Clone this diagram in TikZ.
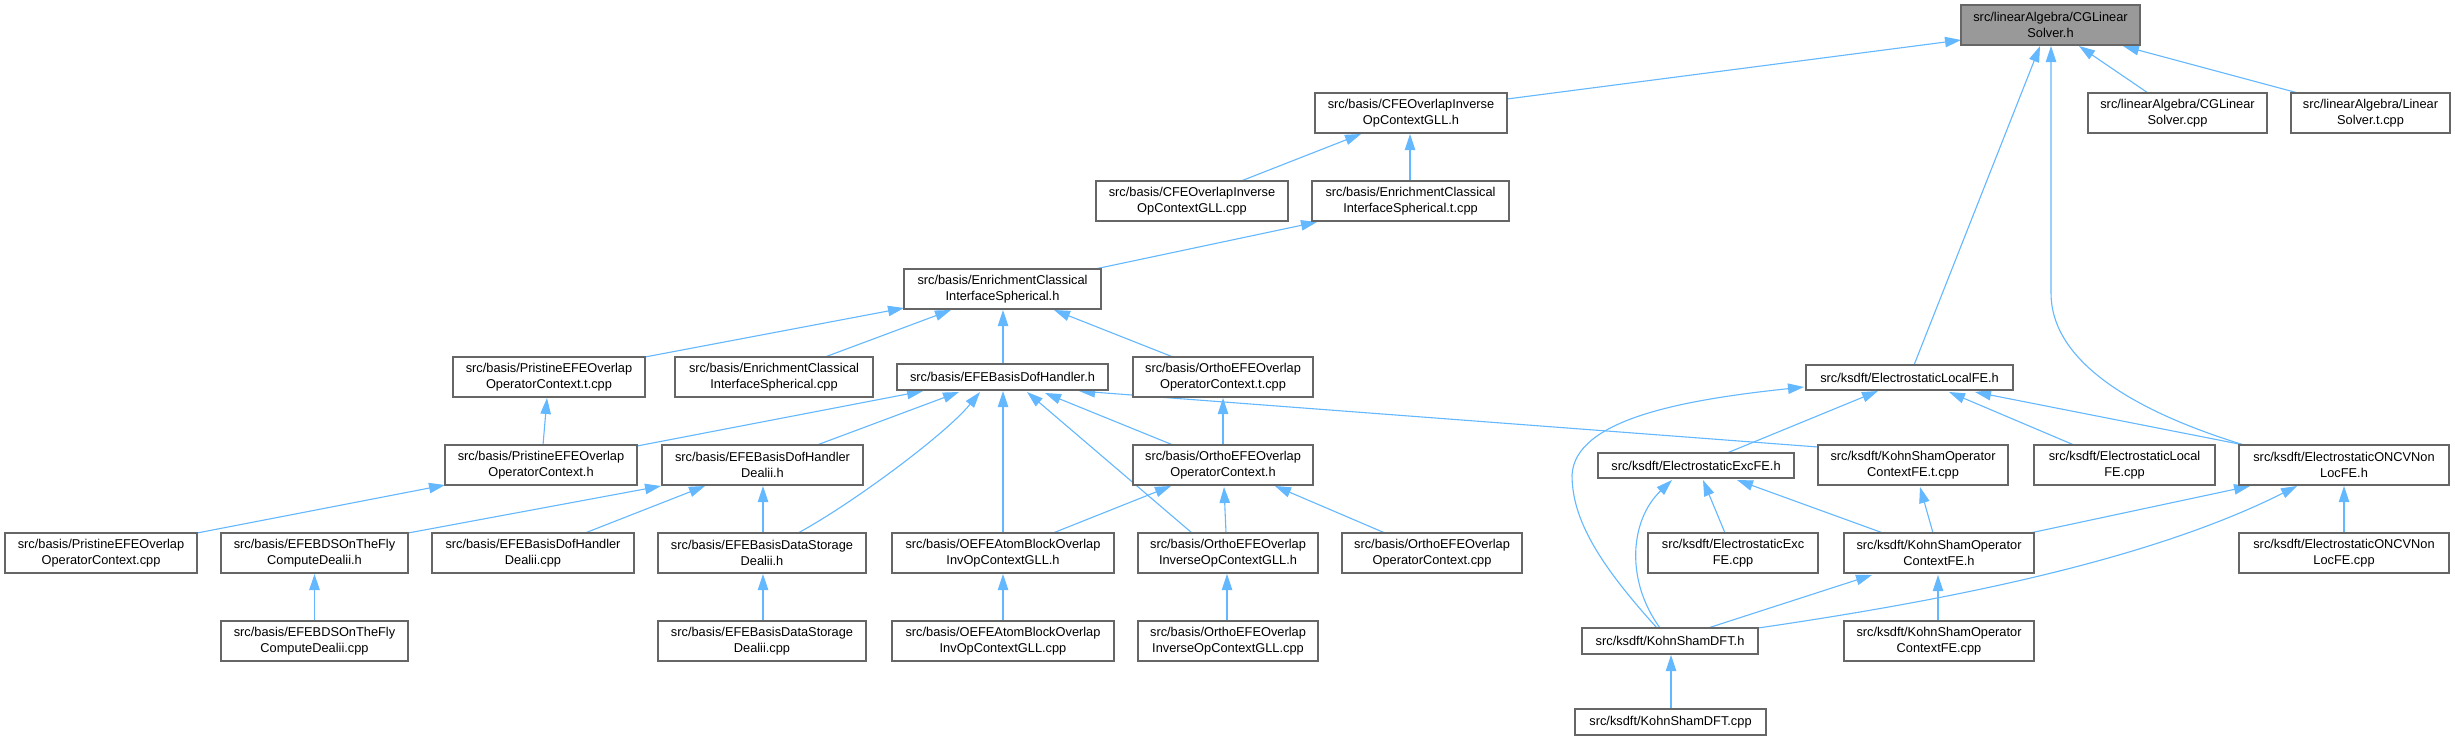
\documentclass[tikz,border=0pt]{standalone}
\usepackage{fontspec}
\setmainfont{Liberation Sans}
\usetikzlibrary{arrows.meta,backgrounds}
\definecolor{edgec}{HTML}{63B8FF}
\definecolor{bord}{HTML}{666666}
\definecolor{rootf}{HTML}{999999}
\tikzset{
  box/.style={draw=bord, fill=white, line width=0.55pt, inner sep=0pt, align=center,
    font=\fontsize{6.4}{8}\selectfont},
  rootbox/.style={box, fill=rootf},
  edge/.style={draw=edgec, line width=0.55pt, -{Triangle[length=8pt,width=5.2pt]}}
}
\newcommand\nd[7][box]{\node[#1, minimum width={(#4-#2)*0.5pt}, minimum height={(#5-#3)*0.5pt}] (#6) at ({(#2+#4)/2},{(#3+#5)/2}) {#7};}
\newcommand\ed[6]{\draw[edge] ([shift={(#2,#3)}]#1.center) -- ([shift={(#5,#6)}]#4.center);}
\begin{document}
\begin{tikzpicture}[x=0.5pt,y=-0.5pt]
\useasboundingbox (0,0) rectangle (2455,740);
% nodes
\nd[rootbox]{1961}{5}{2140}{45}{R}{src/linearAlgebra/CGLinear\\Solver.h}
\nd{1315}{93}{1507}{133}{CFEh}{src/basis/CFEOverlapInverse\\OpContextGLL.h}
\nd{2088}{93}{2267}{133}{CGcpp}{src/linearAlgebra/CGLinear\\Solver.cpp}
\nd{2291}{93}{2450}{133}{LStcpp}{src/linearAlgebra/Linear\\Solver.t.cpp}
\nd{1096}{181}{1288}{221}{CFEcpp}{src/basis/CFEOverlapInverse\\OpContextGLL.cpp}
\nd{1312}{181}{1509}{221}{ECtcpp}{src/basis/EnrichmentClassical\\InterfaceSpherical.t.cpp}
\nd{904}{269}{1101}{309}{ECh}{src/basis/EnrichmentClassical\\InterfaceSpherical.h}
\nd{453}{357}{645}{397}{PRtcpp}{src/basis/PristineEFEOverlap\\OperatorContext.t.cpp}
\nd{675}{357}{873}{397}{ECcpp}{src/basis/EnrichmentClassical\\InterfaceSpherical.cpp}
\nd{897}{364}{1108}{390}{DHh}{src/basis/EFEBasisDofHandler.h}
\nd{1133}{357}{1313}{397}{OOtcpp}{src/basis/OrthoEFEOverlap\\OperatorContext.t.cpp}
\nd{1806}{365}{2013}{390}{ELh}{src/ksdft/ElectrostaticLocalFE.h}
\nd{445}{445}{637}{485}{PRh}{src/basis/PristineEFEOverlap\\OperatorContext.h}
\nd{662}{445}{863}{485}{DHDh}{src/basis/EFEBasisDofHandler\\Dealii.h}
\nd{1133}{445}{1313}{485}{OOh}{src/basis/OrthoEFEOverlap\\OperatorContext.h}
\nd{1598}{453}{1794}{478}{EXh}{src/ksdft/ElectrostaticExcFE.h}
\nd{1818}{445}{2008}{485}{KStcpp}{src/ksdft/KohnShamOperator\\ContextFE.t.cpp}
\nd{2034}{445}{2215}{485}{ELcpp}{src/ksdft/ElectrostaticLocal\\FE.cpp}
\nd{2239}{445}{2449}{485}{ONh}{src/ksdft/ElectrostaticONCVNon\\LocFE.h}
\nd{5}{533}{197}{573}{PRcpp}{src/basis/PristineEFEOverlap\\OperatorContext.cpp}
\nd{221}{533}{408}{573}{BDh}{src/basis/EFEBDSOnTheFly\\ComputeDealii.h}
\nd{432}{533}{634}{573}{DHDcpp}{src/basis/EFEBasisDofHandler\\Dealii.cpp}
\nd{658}{533}{866}{573}{DSDh}{src/basis/EFEBasisDataStorage\\Dealii.h}
\nd{892}{533}{1114}{573}{OAh}{src/basis/OEFEAtomBlockOverlap\\InvOpContextGLL.h}
\nd{1138}{533}{1318}{573}{OIh}{src/basis/OrthoEFEOverlap\\InverseOpContextGLL.h}
\nd{1342}{533}{1522}{573}{OOcpp}{src/basis/OrthoEFEOverlap\\OperatorContext.cpp}
\nd{1648}{533}{1818}{573}{EXcpp}{src/ksdft/ElectrostaticExc\\FE.cpp}
\nd{1844}{533}{2034}{573}{KSh}{src/ksdft/KohnShamOperator\\ContextFE.h}
\nd{2239}{533}{2449}{573}{ONcpp}{src/ksdft/ElectrostaticONCVNon\\LocFE.cpp}
\nd{221}{621}{408}{661}{BDcpp}{src/basis/EFEBDSOnTheFly\\ComputeDealii.cpp}
\nd{658}{621}{866}{661}{DSDcpp}{src/basis/EFEBasisDataStorage\\Dealii.cpp}
\nd{892}{621}{1114}{661}{OAcpp}{src/basis/OEFEAtomBlockOverlap\\InvOpContextGLL.cpp}
\nd{1138}{621}{1318}{661}{OIcpp}{src/basis/OrthoEFEOverlap\\InverseOpContextGLL.cpp}
\nd{1844}{621}{2034}{661}{KScpp}{src/ksdft/KohnShamOperator\\ContextFE.cpp}
\nd{1582}{628}{1758}{654}{KDh}{src/ksdft/KohnShamDFT.h}
\nd{1575}{709}{1766}{735}{KDcpp}{src/ksdft/KohnShamDFT.cpp}
% edges
\begin{pgfonlayer}{background}
\fill[white] (0,0) rectangle (2455,740);
\ed{CFEh}{96}{-14}{R}{-89.5}{15}
\ed{ELh}{4.5}{-12.5}{R}{-10.5}{21}
\draw[edge] ([shift={(-100,-20)}]ONh.center) .. controls (2130,410) and (2051,360) .. (2051,293) -- ([shift={(0.5,21)}]R.center);
\ed{CGcpp}{-29.5}{-20}{R}{28.5}{21}
\ed{LStcpp}{-72.5}{-20}{R}{72.5}{21}
\ed{CFEcpp}{49}{-20}{CFEh}{-50}{21}
\ed{ECtcpp}{-0.5}{-20}{CFEh}{-1}{21}
\ed{ECh}{92.5}{-20}{ECtcpp}{-93.5}{21}
\ed{PRtcpp}{96}{-20}{ECh}{-98.5}{19}
\ed{ECcpp}{51}{-20}{ECh}{-51.5}{21}
\ed{DHh}{0.5}{-13}{ECh}{0.5}{21}
\ed{OOtcpp}{-50}{-20}{ECh}{51.5}{21}
\ed{PRh}{2}{-20}{PRtcpp}{-2}{21}
\ed{PRh}{96}{-19}{DHh}{-79.5}{14}
\ed{DHDh}{54.5}{-20}{DHh}{-43.5}{15}
\draw[edge] ([shift={(36,-20)}]DSDh.center) .. controls (850,505) and (945,435) .. ([shift={(-22.5,15)}]DHh.center);
\ed{OAh}{0}{-20}{DHh}{0.5}{14}
\ed{OIh}{-36}{-20}{DHh}{24.5}{15}
\ed{OOh}{-50}{-20}{DHh}{42.5}{16}
\ed{KStcpp}{-95}{-18}{DHh}{76.5}{14}
\ed{OOh}{0}{-20}{OOtcpp}{0}{21}
\ed{OAh}{50}{-20}{OOh}{-52}{21}
\ed{OIh}{-2}{-20}{OOh}{1}{22}
\ed{OOcpp}{-47}{-20}{OOh}{52}{21}
\ed{PRcpp}{96}{-20}{PRh}{-96}{20}
\ed{BDh}{93.5}{-20}{DHDh}{-101.5}{21}
\ed{DHDcpp}{52}{-20}{DHDh}{-57.5}{21}
\ed{DSDh}{1}{-20}{DHDh}{0.5}{21}
\ed{BDcpp}{0}{-20}{BDh}{0}{21}
\ed{DSDcpp}{1}{-20}{DSDh}{1}{21}
\ed{OAcpp}{0}{-20}{OAh}{0}{21}
\ed{OIcpp}{-1}{-20}{OIh}{-1}{21}
\ed{EXh}{31}{-12.5}{ELh}{-31.5}{13.5}
\draw[edge] ([shift={(-13,-13)}]KDh.center) .. controls (1600,565) and (1572,520) .. (1572,475) .. controls (1575,420) and (1680,400) .. ([shift={(-105.5,9.5)}]ELh.center);
\ed{ELcpp}{-50.5}{-20}{ELh}{39.5}{14.5}
\ed{ONh}{-100}{-20}{ELh}{65.5}{14.5}
\draw[edge] ([shift={(-10,-13)}]KDh.center) .. controls (1625,580) and (1630,520) .. ([shift={(-24,14.5)}]EXh.center);
\ed{EXcpp}{-8}{-20}{EXh}{7}{14.5}
\ed{KSh}{-56}{-20}{EXh}{41}{14.5}
\ed{KSh}{-6}{-20}{KStcpp}{7}{22}
\ed{KDh}{38}{-13}{KSh}{-67}{22}
\ed{KScpp}{-1}{-20}{KSh}{-1}{22}
\ed{KSh}{91}{-20}{ONh}{-94}{21}
\draw[edge] ([shift={(88,-13)}]KDh.center) .. controls (1950,600) and (2150,560) .. ([shift={(-47,21)}]ONh.center);
\ed{ONcpp}{0}{-20}{ONh}{0}{21}
\ed{KDcpp}{0.5}{-13}{KDh}{1}{14}
\end{pgfonlayer}
\end{tikzpicture}
\end{document}
